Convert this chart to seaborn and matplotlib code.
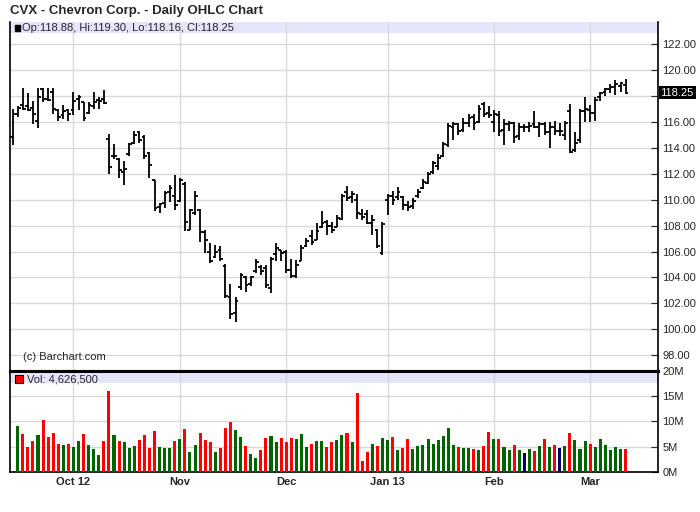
import numpy as np
import pandas as pd
import matplotlib
matplotlib.use("Agg")
import matplotlib.pyplot as plt
import matplotlib.transforms as mtrans
from matplotlib.patches import Rectangle
import seaborn as sns

# trading days 13 Sep 2012 - 12 Mar 2013 (exchange holidays removed)
holidays = ["2012-10-29", "2012-10-30", "2012-11-22", "2012-12-25",
            "2013-01-01", "2013-01-21", "2013-02-18"]
dates = pd.bdate_range("2012-09-13", "2013-03-12")
dates = dates[~dates.isin(pd.to_datetime(holidays))]

opens = [114.8, 116.6, 117.3, 117.2, 117.1, 116.1, 118.5, 117.8, 118.3, 116.9,
         116.5, 116.9, 116.9, 117.8, 117.5, 116.7, 117.2, 117.7, 117.8, 114.7,
         113.4, 113.15, 112.1, 113.5, 114.4, 115.2, 114.8, 113.6, 111.5, 109.4,
         109.75, 110.6, 110.25, 109.9, 111.2, 107.7, 109.0, 109.2, 107.5, 106.0,
         105.6, 106.1, 104.9, 102.5, 101.3, 103.3, 104.0, 103.5, 104.5, 104.8,
         104.7, 103.2, 105.8, 106.1, 106.0, 104.6, 104.1, 105.3, 106.4, 107.2,
         106.9, 107.9, 108.3, 108.0, 107.9, 108.5, 110.6, 110.2, 110.0, 108.9,
         108.9, 108.2, 107.7, 105.9, 110.0, 110.3, 110.2, 110.2, 109.6, 109.5,
         110.3, 110.9, 111.3, 112.1, 112.6, 113.4, 114.2, 115.6, 115.8, 115.4,
         115.9, 116.4, 116.0, 117.4, 116.7, 116.0, 116.5, 115.4, 115.8, 115.9,
         114.9, 115.6, 115.6, 115.8, 115.6, 115.8, 115.2, 115.6, 115.3, 115.0,
         116.8, 113.8, 114.6, 116.8, 116.9, 116.7, 117.9, 118.3, 118.5, 118.7,
         118.8, 118.88]
highs = [117.0, 117.2, 118.6, 118.2, 117.6, 118.6, 118.6, 118.6, 118.6, 117.0,
         117.3, 117.0, 118.3, 118.05, 117.55, 117.55, 118.3, 117.9, 118.45, 115.1,
         114.3, 113.2, 113.0, 114.4, 115.3, 115.3, 115.0, 113.7, 111.55, 109.75,
         110.65, 111.15, 111.9, 111.65, 111.4, 109.3, 110.65, 109.3, 107.7, 106.65,
         106.5, 106.45, 105.05, 103.5, 102.5, 104.35, 104.1, 104.15, 105.4, 105.0,
         105.0, 105.6, 106.65, 106.15, 106.1, 105.4, 105.35, 106.5, 107.05, 107.7,
         108.2, 109.15, 108.45, 108.3, 108.85, 110.4, 111.05, 110.65, 110.4, 109.3,
         109.2, 108.8, 107.75, 108.25, 110.4, 110.7, 111.0, 110.3, 109.9, 110.1,
         110.85, 111.6, 112.15, 113.0, 113.55, 114.45, 115.9, 116.0, 115.9, 116.3,
         116.6, 116.6, 117.3, 117.5, 117.2, 116.9, 116.8, 116.2, 116.1, 116.0,
         115.9, 115.8, 116.0, 116.8, 116.0, 116.0, 116.0, 116.1, 115.9, 116.1,
         117.4, 115.2, 117.0, 117.9, 117.3, 117.9, 118.3, 118.6, 118.9, 119.2,
         119.1, 119.30]
lows = [114.2, 116.4, 116.9, 116.8, 115.8, 115.5, 117.5, 117.6, 116.6, 116.1,
        116.2, 116.1, 116.5, 116.9, 116.1, 116.6, 117.0, 117.0, 117.4, 112.0,
        113.1, 111.7, 111.1, 113.4, 114.3, 114.4, 113.1, 111.65, 109.1, 108.95,
        109.35, 109.85, 109.2, 109.85, 107.55, 107.65, 108.85, 106.7, 105.9, 105.1,
        105.5, 105.25, 102.4, 100.8, 100.6, 103.05, 102.9, 103.35, 104.35, 104.2,
        103.2, 102.8, 105.3, 105.25, 104.35, 103.95, 103.95, 105.25, 106.35, 106.5,
        106.9, 107.8, 107.3, 107.4, 107.9, 108.45, 109.9, 109.75, 108.5, 108.45,
        108.1, 107.3, 106.25, 105.7, 108.8, 109.6, 110.0, 109.2, 109.1, 109.3,
        110.15, 110.8, 111.2, 112.0, 112.3, 113.3, 114.1, 114.6, 115.0, 115.2,
        115.6, 115.4, 115.9, 116.4, 116.3, 115.2, 114.9, 114.2, 115.3, 114.4,
        114.6, 115.2, 115.2, 115.5, 114.8, 115.0, 114.0, 115.0, 114.9, 114.6,
        113.6, 113.7, 114.4, 116.0, 116.0, 116.1, 117.6, 118.0, 118.2, 118.1,
        118.3, 118.16]
closes = [116.6, 117.1, 117.0, 116.9, 116.6, 117.9, 117.8, 117.7, 117.0, 116.4,
          116.8, 116.6, 117.6, 117.9, 116.3, 117.3, 117.5, 117.6, 117.45, 112.5,
          113.4, 112.25, 112.35, 114.3, 114.95, 114.6, 113.4, 112.7, 109.35, 109.7,
          110.5, 110.9, 109.6, 111.5, 108.3, 109.2, 110.3, 107.5, 106.9, 105.3,
          106.0, 105.4, 102.6, 101.2, 102.2, 104.2, 103.4, 104.0, 105.2, 104.5,
          103.4, 105.4, 106.3, 105.9, 104.6, 104.1, 105.0, 106.3, 106.8, 106.7,
          107.6, 108.2, 108.0, 107.7, 108.6, 110.3, 110.1, 110.4, 109.0, 108.7,
          108.2, 108.4, 106.4, 108.1, 110.3, 110.0, 110.6, 109.6, 109.4, 109.9,
          110.6, 111.4, 112.0, 112.8, 113.2, 114.3, 115.7, 115.8, 115.3, 115.9,
          116.3, 115.9, 117.0, 116.6, 116.5, 116.6, 115.3, 115.8, 115.9, 114.8,
          115.6, 115.6, 115.7, 115.6, 115.8, 115.2, 115.6, 115.3, 115.3, 115.9,
          113.7, 114.4, 116.8, 117.0, 116.7, 117.7, 118.2, 118.5, 118.7, 118.9,
          119.0, 118.25]
# volume in millions (the first day has no bar on the chart)
volumes = [np.nan,
           9.0, 7.4, 5.0, 6.0, 7.2, 10.2, 6.8, 7.6, 5.6, 5.4,
           5.6, 5.0, 6.0, 7.4, 5.4, 4.6, 3.4, 6.0, 16.0, 7.2,
           6.0, 5.8, 4.8, 5.2, 6.2, 7.2, 4.8, 8.0, 5.0, 4.8,
           4.8, 6.0, 6.4, 8.4, 4.0, 5.4, 7.6, 6.2, 5.8, 4.0,
           4.8, 8.6, 9.8, 8.2, 6.8, 5.2, 3.6, 2.8, 4.4, 6.6,
           7.0, 5.8, 6.6, 5.8, 6.6, 6.4, 7.4, 5.0, 5.6, 6.0,
           6.0, 5.0, 5.8, 6.2, 7.2, 7.6, 5.8, 15.6, 2.2, 4.0,
           5.6, 5.2, 6.6, 6.2, 6.8, 4.4, 4.8, 6.4, 4.6, 5.2,
           5.4, 6.4, 5.6, 6.2, 7.0, 8.6, 5.4, 5.0, 4.8, 4.8,
           4.6, 4.4, 5.2, 7.8, 6.4, 6.4, 5.0, 4.4, 5.4, 4.4,
           3.8, 4.6, 4.2, 5.2, 6.4, 5.0, 5.4, 4.8, 5.2, 7.6,
           6.2, 4.6, 6.0, 5.6, 5.0, 6.4, 5.4, 4.4, 5.0, 4.6,
           4.6]
# g = up day, r = down day, n = unchanged
vol_dir = list("-"
               "grrrgrrrrg" "rggrgggrrg" "rgggrrrrgg" "grgrggrrrg"
               "rrrggrggrr" "ggrrrgggrg" "grrggr"
               "grrrgrggrg" "rrgggggggg" "grggrgrrgr" "ggrgngrgrg"
               "rngrgggrgg" "ggggr")
month_labels = ["Oct 12", "Nov", "Dec", "Jan 13", "Feb", "Mar"]
price_ticks = list(range(98, 123, 2))
vol_ticks = [0, 5, 10, 15, 20]

last = dict(o=opens[-1], h=highs[-1], l=lows[-1], c=closes[-1])
last_vol = 4626500

sns.set_style("white")
plt.rcParams["font.family"] = ["Liberation Sans", "DejaVu Sans"]

idx = np.arange(len(dates))
month_pos = [i for i in range(1, len(dates)) if dates[i].month != dates[i - 1].month]

grid_c = "#d9d9d9"
band_c = "#e4e4fb"
up_c, down_c, flat_c = "#006400", "#ff0000", "#000066"

fig = plt.figure(figsize=(7, 5.12), dpi=100)
ax = fig.add_axes([10 / 700, 1 - 371 / 512, 648 / 700, 349 / 512])
axv = fig.add_axes([10 / 700, 1 - 471.7 / 512, 648 / 700, 100.7 / 512], sharex=ax)

# ---- price panel
ax.add_patch(Rectangle((0, 0.968), 1, 0.032, transform=ax.transAxes,
                       color=band_c, zorder=0.3, lw=0))
ax.vlines(idx, lows, highs, color="black", lw=1.3, zorder=3)
ax.hlines(opens, idx - 0.55, idx, color="black", lw=1.3, zorder=3)
ax.hlines(closes, idx, idx + 0.55, color="black", lw=1.3, zorder=3)

ax.set_xlim(-0.53, 127.4)
ax.set_ylim(96.79, 123.70)
ax.set_axisbelow(True)
ax.grid(True, color=grid_c, lw=1)
ax.set_yticks(price_ticks)
ax.set_yticklabels(["" if abs(t - last["c"]) < 1 else f"{t:.2f}" for t in price_ticks])
ax.yaxis.tick_right()
ax.tick_params(axis="y", direction="in", length=5, pad=3, labelsize=8, width=0.8)
ax.tick_params(axis="x", length=0, labelbottom=False)
for s in ["left", "right", "bottom"]:
    ax.spines[s].set_color("black")
ax.spines["left"].set_linewidth(1.2)
ax.spines["right"].set_linewidth(1.2)
ax.spines["bottom"].set_linewidth(2.2)
ax.spines["top"].set_visible(False)

ax.add_patch(Rectangle((0.0077, 0.974), 0.0075, 0.017, transform=ax.transAxes,
                       color="black", zorder=4))
ax.text(0.018, 0.982,
        f"Op:{last['o']:.2f}, Hi:{last['h']:.2f}, Lo:{last['l']:.2f}, Cl:{last['c']:.2f}",
        transform=ax.transAxes, fontsize=8, va="center", ha="left")
ax.text(0.0196, 0.041, "(c) Barchart.com", transform=ax.transAxes,
        fontsize=8, va="center", ha="left")
tr = mtrans.blended_transform_factory(ax.transAxes, ax.transData)
ax.text(1.004, last["c"], f"{last['c']:.2f}", transform=tr, color="white",
        fontsize=8, va="center", ha="left", zorder=6,
        bbox=dict(facecolor="black", edgecolor="none", pad=1.2))

# ---- volume panel
vol_df = pd.DataFrame({"day": idx, "vol": volumes, "dir": vol_dir}).dropna()
axv.add_patch(Rectangle((0, 0.878), 1, 0.122, transform=axv.transAxes,
                        color=band_c, zorder=0.3, lw=0))
sns.barplot(data=vol_df, x="day", y="vol", hue="dir", native_scale=True,
            palette={"g": up_c, "r": down_c, "n": flat_c}, dodge=False,
            errorbar=None, width=0.6, legend=False, ax=axv, zorder=3,
            linewidth=0, saturation=1)
axv.set_xlim(-0.53, 127.4)
axv.set_ylim(0, 20)
axv.set_axisbelow(True)
axv.grid(True, color=grid_c, lw=1)
axv.set_yticks(vol_ticks)
axv.set_yticklabels([f"{v}M" for v in vol_ticks])
axv.yaxis.tick_right()
axv.tick_params(axis="y", direction="in", length=5, pad=3, labelsize=8, width=0.8)
axv.set_xticks(month_pos)
axv.set_xticklabels(month_labels, fontweight="bold", fontsize=8)
axv.tick_params(axis="x", length=0, pad=4)
axv.set_xlabel("")
axv.set_ylabel("")
for s in ["left", "right", "bottom", "top"]:
    axv.spines[s].set_color("black")
    axv.spines[s].set_linewidth(1.2)
axv.spines["top"].set_linewidth(2.2)

axv.add_patch(Rectangle((0.0077, 0.884), 0.0119, 0.0735, transform=axv.transAxes,
                        facecolor=down_c, edgecolor="black", lw=0.8, zorder=4))
axv.text(0.0258, 0.92, f"Vol: {last_vol:,}", transform=axv.transAxes,
         fontsize=8, va="center", ha="left")

fig.text(10.5 / 700, 1 - 11 / 512, "CVX - Chevron Corp. - Daily OHLC Chart",
         fontsize=9.5, fontweight="bold", va="center", ha="left")

fig.savefig("out.png", dpi=100, facecolor="white")
